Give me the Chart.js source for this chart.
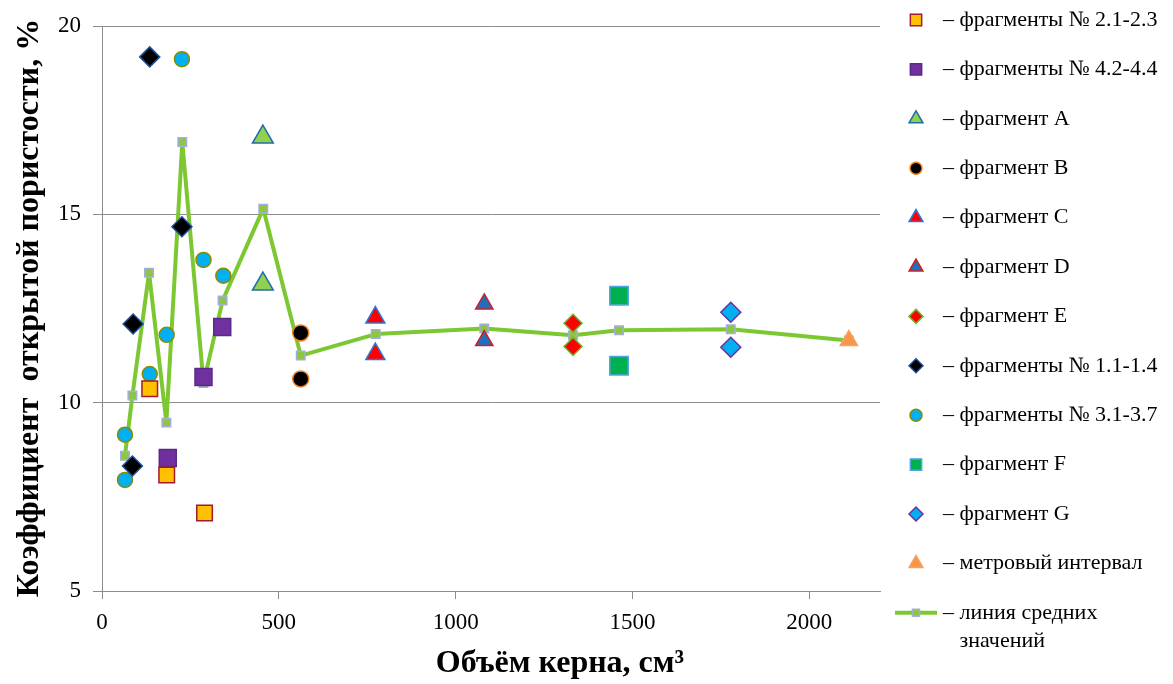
<!DOCTYPE html>
<html>
<head>
<meta charset="utf-8">
<title>Коэффициент открытой пористости</title>
<script src="https://cdn.jsdelivr.net/npm/chart.js"></script>
<style>
  html, body { margin: 0; padding: 0; background: #fff; }
  #wrap { width: 1173px; height: 684px; }
</style>
</head>
<body>
<div id="wrap"><canvas id="porosityChart"></canvas></div>
<script>
// оси
var xTicks = [0, 500, 1000, 1500, 2000];
var yTicks = [5, 10, 15, 20];
var xTitle = "Объём керна, см³";
var yTitle = "Коэффициент  открытой пористости, %";

// данные (объём керна, см3 / коэффициент пористости, %)
var frag21X = [135, 183, 290];
var frag21Y = [10.37, 8.08, 7.07];
var frag42X = [186, 287, 340];
var frag42Y = [8.53, 10.68, 12.01];
var fragAX = [455, 455];
var fragAY = [17.05, 13.15];
var fragBX = [562, 562];
var fragBY = [11.85, 10.63];
var fragCX = [773, 773];
var fragCY = [12.26, 11.29];
var fragDX = [1081, 1081];
var fragDY = [12.62, 11.65];
var fragEX = [1332, 1332];
var fragEY = [12.11, 11.49];
var frag11X = [135, 226, 88, 86];
var frag11Y = [19.18, 14.67, 12.09, 8.32];
var frag31X = [226, 287, 343, 183, 135, 65, 65];
var frag31Y = [19.12, 13.79, 13.37, 11.80, 10.76, 9.15, 7.95];
var fragFX = [1462, 1462];
var fragFY = [12.84, 10.98];
var fragGX = [1778, 1778];
var fragGY = [12.40, 11.47];
var meterX = [2112];
var meterY = [11.65];
var meanX = [65, 86, 133, 182, 227, 287, 341, 456, 562, 774, 1081, 1332, 1462, 1778, 2112];
var meanY = [8.59, 10.19, 13.45, 9.47, 16.92, 10.52, 12.71, 15.15, 11.25, 11.82, 11.97, 11.79, 11.92, 11.95, 11.65];

var legendLabels = [
    "– фрагменты № 2.1-2.3",
    "– фрагменты № 4.2-4.4",
    "– фрагмент A",
    "– фрагмент B",
    "– фрагмент C",
    "– фрагмент D",
    "– фрагмент E",
    "– фрагменты № 1.1-1.4",
    "– фрагменты № 3.1-3.7",
    "– фрагмент F",
    "– фрагмент G",
    "– метровый интервал",
    "– линия средних\nзначений"
];

function pts(xs, ys) {
    return xs.map(function (x, i) { return { x: x, y: ys[i] }; });
}

function series(label, xs, ys, style, r, fill, border, legendR) {
    return {
        label: label,
        data: pts(xs, ys),
        pointStyle: style,
        pointRadius: r,
        pointHoverRadius: r,
        backgroundColor: fill,
        borderColor: border,
        borderWidth: 1.5,
        legendR: legendR,
        order: 0
    };
}

var datasets = [
    series(legendLabels[0], frag21X, frag21Y, "rect", 11, "#FFC000", "#A21A2C", 8),
    series(legendLabels[1], frag42X, frag42Y, "rect", 12, "#7030A0", "#5A2A8A", 8),
    series(legendLabels[2], fragAX, fragAY, "triangle", 12, "#92D050", "#1F6FA8", 8),
    series(legendLabels[3], fragBX, fragBY, "circle", 8, "#000000", "#F07F1E", 6),
    series(legendLabels[4], fragCX, fragCY, "triangle", 11, "#FF0000", "#2E75D6", 8),
    series(legendLabels[5], fragDX, fragDY, "triangle", 10, "#1F6FC0", "#D02020", 8),
    series(legendLabels[6], fragEX, fragEY, "rectRot", 9, "#FF0000", "#70B030", 7),
    series(legendLabels[7], frag11X, frag11Y, "rectRot", 10, "#000000", "#1F4E9A", 7),
    series(legendLabels[8], frag31X, frag31Y, "circle", 7.5, "#00B0F0", "#8B8B00", 6),
    series(legendLabels[9], fragFX, fragFY, "rect", 13, "#00B050", "#4FA5E0", 8),
    series(legendLabels[10], fragGX, fragGY, "rectRot", 10, "#00B0F0", "#7030A0", 7),
    series(legendLabels[11], meterX, meterY, "triangle", 10, "#F79646", "#F8A060", 8),
    {
        label: legendLabels[12],
        data: pts(meanX, meanY),
        showLine: true,
        tension: 0,
        borderColor: "#7DC832",
        borderWidth: 4,
        borderJoinStyle: "round",
        pointStyle: "rect",
        pointRadius: 6,
        pointHoverRadius: 6,
        pointBackgroundColor: "#8DC63F",
        pointBorderColor: "#A3AEDB",
        pointBorderWidth: 1.5,
        legendR: 5,
        order: 1
    }
];

// подписи осей и легенда справа
var decorPlugin = {
    id: "decor",
    afterDraw: function (chart) {
        var ctx = chart.ctx;
        ctx.save();
        ctx.fillStyle = "#000";
        ctx.font = "bold 32px 'Liberation Serif'";
        ctx.textAlign = "center";
        ctx.textBaseline = "middle";
        ctx.fillText(xTitle, 560, 664);
        ctx.translate(30, 308);
        ctx.rotate(-Math.PI / 2);
        ctx.fillText(yTitle, 0, 0);
        ctx.restore();

        ctx.save();
        var top = 20, step = 49.4, mx = 916, tx = 943;
        ctx.font = "22px 'Liberation Serif'";
        ctx.textBaseline = "middle";
        ctx.textAlign = "left";
        chart.data.datasets.forEach(function (ds, i) {
            var y = top + i * step;
            if (ds.showLine) {
                ctx.strokeStyle = ds.borderColor;
                ctx.lineWidth = 4;
                ctx.beginPath();
                ctx.moveTo(mx - 21, y);
                ctx.lineTo(mx + 21, y);
                ctx.stroke();
                ctx.fillStyle = ds.pointBackgroundColor;
                ctx.strokeStyle = ds.pointBorderColor;
                ctx.lineWidth = 1.5;
            } else {
                ctx.fillStyle = ds.backgroundColor;
                ctx.strokeStyle = ds.borderColor;
                ctx.lineWidth = 1.5;
            }
            Chart.helpers.drawPoint(ctx, {
                pointStyle: ds.pointStyle, radius: ds.legendR, rotation: 0, borderWidth: 1.5
            }, mx, y);
            ctx.fillStyle = "#000";
            var lines = ds.label.split("\n");
            ctx.fillText(lines[0], tx, y);
            if (lines[1]) {
                var indent = ctx.measureText("– ").width;
                ctx.fillText(lines[1], tx + indent, y + 28);
            }
        });
        ctx.restore();
    }
};

var ctx = document.getElementById("porosityChart").getContext("2d");
var chart = new Chart(ctx, {
    type: "scatter",
    data: { datasets: datasets },
    plugins: [decorPlugin],
    options: {
        responsive: true,
        maintainAspectRatio: false,
        animation: false,
        layout: { padding: { top: 26, right: 293, left: 0, bottom: 0 } },
        plugins: {
            legend: { display: false },
            tooltip: { enabled: false }
        },
        scales: {
            x: {
                type: "linear",
                min: 0,
                max: 2200,
                afterFit: function (s) { s.height = 93; },
                afterBuildTicks: function (s) { s.ticks = xTicks.map(function (v) { return { value: v }; }); },
                ticks: {
                    includeBounds: false,
                    padding: 10,
                    color: "#000",
                    font: { family: "Liberation Serif", size: 23 },
                    callback: function (v) { return String(v); }
                },
                grid: { drawOnChartArea: false, drawTicks: true, tickLength: 8, color: "#8C8C8C" },
                border: { color: "#8C8C8C", width: 1 }
            },
            y: {
                type: "linear",
                min: 5,
                max: 20,
                afterFit: function (s) { s.width = 102; },
                afterBuildTicks: function (s) { s.ticks = yTicks.map(function (v) { return { value: v }; }); },
                ticks: {
                    padding: 12,
                    color: "#000",
                    font: { family: "Liberation Serif", size: 23 },
                    callback: function (v) { return String(v); }
                },
                grid: { drawTicks: true, tickLength: 9, color: "#8C8C8C" },
                border: { color: "#8C8C8C", width: 1 }
            }
        }
    }
});
</script>
</body>
</html>
